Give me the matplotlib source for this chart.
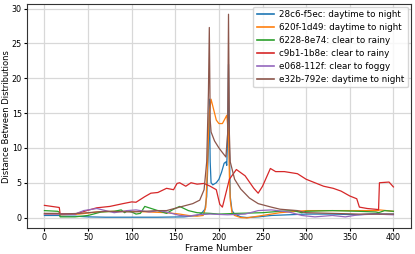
import matplotlib
matplotlib.use("Agg")
import matplotlib.pyplot as plt

# frame numbers / distances, one pair of lists per clip
blue_x = [0, 17, 18, 35, 50, 70, 100, 130, 160, 175, 180, 184, 186, 188, 189, 190, 191, 193, 197, 200, 203, 206, 208, 209, 210, 211, 212, 213, 215, 218, 225, 232, 245, 260, 280, 300, 330, 360, 383, 384, 400]
blue_y = [0.3, 0.3, 0.2, 0.2, 0.1, 0.05, 0.05, 0.05, 0.1, 0.3, 0.6, 1.2, 3.0, 10.0, 17.0, 8.0, 5.0, 4.7, 5.0, 5.5, 6.5, 7.8, 8.0, 7.5, 12.0, 22.0, 10.0, 3.0, 1.0, 0.5, 0.1, 0.0, 0.1, 0.3, 0.4, 0.5, 0.5, 0.4, 0.6, 0.5, 0.5]

orange_x = [0, 17, 18, 40, 60, 80, 100, 120, 140, 155, 165, 175, 182, 185, 187, 189, 191, 194, 197, 200, 204, 207, 209, 211, 212, 213, 215, 218, 225, 232, 250, 270, 300, 330, 360, 383, 384, 400]
orange_y = [0.5, 0.5, 0.4, 0.5, 0.8, 0.9, 0.9, 0.8, 0.7, 0.5, 0.3, 0.2, 0.3, 1.5, 8.0, 15.0, 17.0, 15.5, 14.0, 13.5, 13.5, 14.2, 14.7, 12.0, 6.0, 2.5, 0.7, 0.3, 0.0, -0.05, 0.3, 0.7, 1.0, 1.0, 1.0, 1.0, 1.1, 0.9]

green_x = [0, 15, 17, 18, 35, 50, 65, 80, 88, 92, 95, 100, 105, 110, 115, 125, 130, 140, 148, 155, 165, 175, 190, 200, 220, 250, 270, 285, 295, 300, 330, 360, 380, 383, 390, 400]
green_y = [1.0, 0.9, 0.8, 0.1, 0.1, 0.3, 0.8, 0.9, 1.1, 0.7, 1.0, 0.8, 0.5, 0.6, 1.6, 1.2, 1.0, 0.6, 1.2, 1.6, 1.0, 0.7, 0.6, 0.5, 0.6, 0.7, 0.9, 1.0, 0.7, 0.9, 1.0, 0.9, 0.8, 0.7, 1.0, 0.9]

red_x = [0, 17, 18, 35, 50, 60, 75, 90, 100, 105, 115, 122, 130, 140, 148, 152, 155, 162, 168, 175, 183, 190, 197, 201, 204, 207, 212, 220, 230, 240, 245, 250, 259, 265, 275, 290, 300, 308, 320, 331, 340, 350, 358, 361, 370, 383, 384, 395, 400]
red_y = [1.75, 1.45, 0.55, 0.5, 1.05, 1.4, 1.6, 2.0, 2.25, 2.2, 3.0, 3.5, 3.6, 4.2, 4.0, 4.9, 5.0, 4.5, 5.0, 4.8, 4.9, 4.5, 4.0, 1.9, 1.5, 3.0, 5.5, 6.9, 6.0, 4.2, 3.5, 4.5, 7.05, 6.6, 6.6, 6.3, 5.5, 5.1, 4.5, 4.2, 3.8, 3.1, 2.7, 1.5, 1.3, 1.15, 5.0, 5.1, 4.4]

purple_x = [0, 17, 35, 45, 60, 70, 80, 95, 105, 120, 130, 140, 155, 165, 175, 190, 210, 230, 245, 260, 280, 295, 310, 330, 345, 360, 380, 400]
purple_y = [0.5, 0.5, 0.5, 1.0, 1.3, 1.0, 0.7, 1.0, 1.1, 0.8, 1.0, 0.8, 0.3, 0.2, 0.4, 0.5, 0.4, 0.5, 1.0, 1.1, 0.8, 0.3, 0.1, 0.3, 0.1, 0.4, 0.5, 0.4]

brown_x = [0, 17, 18, 40, 70, 100, 130, 140, 155, 170, 178, 183, 186, 188, 189, 190, 191, 195, 200, 203, 208, 210, 211, 212, 213, 218, 225, 235, 245, 260, 270, 290, 300, 330, 360, 400]
brown_y = [0.6, 0.6, 0.5, 0.6, 0.9, 0.8, 1.0, 1.0, 1.5, 2.0, 2.5, 4.0, 8.0, 18.0, 27.3, 14.0, 12.3, 11.0, 10.0, 9.5, 8.7, 12.0, 29.2, 12.0, 8.0, 5.5, 4.1, 2.8, 2.0, 1.5, 1.2, 1.0, 0.7, 0.6, 0.5, 0.5]

labels = ["28c6-f5ec: daytime to night", "620f-1d49: daytime to night",
          "6228-8e74: clear to rainy", "c9b1-1b8e: clear to rainy",
          "e068-112f: clear to foggy", "e32b-792e: daytime to night"]
colors = ["#1f77b4", "#ff7f0e", "#2ca02c", "#d62728", "#9467bd", "#8c564b"]

fig = plt.figure(figsize=(4.15, 2.54), dpi=100)
ax = fig.add_axes([0.065, 0.102, 0.925, 0.882])

series = [(blue_x, blue_y), (orange_x, orange_y), (green_x, green_y),
          (red_x, red_y), (purple_x, purple_y), (brown_x, brown_y)]
for (xs, ys), lab, c in zip(series, labels, colors):
    ax.plot(xs, ys, lw=0.9, color=c, label=lab)

ax.grid(True, color="#d8d8d8", lw=0.9)
ax.set_axisbelow(True)
ax.set_xlabel("Frame Number", fontsize=6.5, labelpad=1)
ax.set_ylabel("Distance Between Distributions", fontsize=6.0, labelpad=0.5)
ax.tick_params(labelsize=5.8, length=2.5, pad=1.2)
ax.set_xticks(range(0, 401, 50))
ax.set_yticks(range(0, 31, 5))
leg = ax.legend(loc="upper right", fontsize=6.3, handlelength=2.0,
                borderpad=0.4, labelspacing=0.45, handletextpad=0.6,
                borderaxespad=0.3)
for line in leg.get_lines():
    line.set_linewidth(1.2)
for sp in ax.spines.values():
    sp.set_color("#333333")
    sp.set_linewidth(0.8)

fig.savefig("out.png", dpi=100)
